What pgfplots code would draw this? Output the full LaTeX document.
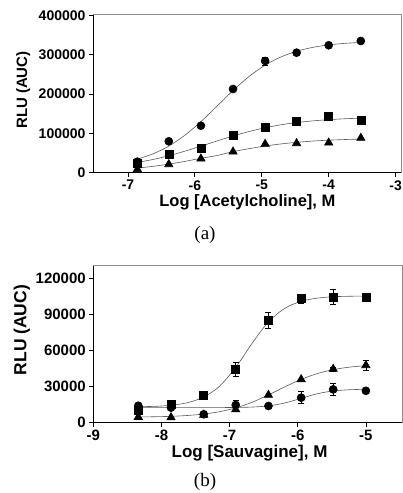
\documentclass[border=0pt]{standalone}
\usepackage{fontspec}
\setmainfont{Liberation Serif}
\setsansfont{Liberation Sans}
\usepackage{pgfplots}
\pgfplotsset{compat=1.18}
\pgfplotsset{
  dr/.style={
    scale only axis, clip=false,
    axis lines=left, axis line style={-, line width=0.8pt, black},
    tick align=outside, major tick length=4pt,
    tick style={black, line width=0.8pt},
    scaled y ticks=false,
    every tick label/.append style={font=\sffamily\bfseries\fontsize{14}{15}\selectfont},
    label style={font=\sffamily\bfseries\fontsize{16.5}{17}\selectfont},
  },
  fit/.style={black!65, line width=0.6pt, smooth, no marks},
  pts/.style={only marks, black, line width=0.6pt,
    error bars/y dir=both, error bars/y explicit,
    error bars/error bar style={black, line width=0.6pt},
    error bars/error mark options={rotate=90, mark size=3pt, black, line width=0.6pt}},
}
\begin{document}
\begin{tikzpicture}
\path[use as bounding box] (0,0) rectangle (403pt,-493pt);
% ---------------- (a) ----------------
\begin{axis}[dr,
  at={(93pt,-172.7pt)}, anchor=south west,
  width=308.7pt, height=158pt,
  xmin=-7.523, xmax=-2.909, ymin=0, ymax=401500,
  xtick={-7,-6,-5,-4,-3}, xticklabels={-7,-6,-5,-4,-3},
  ytick={0,100000,200000,300000,400000},
  yticklabels={0,100000,200000,300000,400000},
  xlabel={Log [Acetylcholine], M}, ylabel={RLU (AUC)},
  x label style={at={(axis description cs:0.5,-0.19)}, anchor=center},
  y label style={at={(axis description cs:-0.226,0.523)}, anchor=center, font=\sffamily\bfseries\fontsize{15}{16}\selectfont},
]
\addplot[fit] coordinates {(-6.86,34500) (-6.63,47700) (-6.40,66700) (-6.16,93800) (-5.92,128200) (-5.68,167500) (-5.43,208900) (-5.19,244600) (-4.95,273300) (-4.72,293700) (-4.48,308600) (-4.24,318400) (-4.00,324700) (-3.76,328700) (-3.52,331100)};
\addplot[fit] coordinates {(-6.86,26000) (-6.63,33500) (-6.40,42700) (-6.16,54200) (-5.92,66900) (-5.68,80100) (-5.43,93300) (-5.19,104700) (-4.95,114200) (-4.72,121600) (-4.48,127400) (-4.24,131700) (-4.00,134800) (-3.76,137100) (-3.52,138600)};
\addplot[fit] coordinates {(-6.86,11700) (-6.63,16100) (-6.40,21500) (-6.16,28400) (-5.92,36300) (-5.68,43300) (-5.43,53400) (-5.19,61100) (-4.95,67800) (-4.72,73000) (-4.48,77200) (-4.24,80400) (-4.00,82700) (-3.76,84300) (-3.52,85500)};
\addplot[pts, mark=triangle*, mark size=4.8pt] coordinates {(-6.86,8600) (-6.39,21300) (-5.91,35600) (-5.43,53400) (-4.95,72900) (-4.48,74700) (-4.0,76200) (-3.52,88200)};
\addplot[pts, mark=square*, mark size=4pt] coordinates {(-6.86,24000) (-6.39,47500) (-5.91,62800) (-5.43,95800) (-4.95,115400) (-4.48,129600) (-4.0,142300) +- (0,3000) (-3.52,134000)};
\addplot[pts, mark=*, mark size=4pt] coordinates {(-6.86,28000) (-6.39,79800) (-5.91,119400) (-5.43,212700) +- (0,7000) (-4.95,283900) +- (0,10000) (-4.48,305000) +- (0,4000) (-4.0,323800) +- (0,3000) (-3.52,334700)};
\draw[black!45, line width=0.8pt] (rel axis cs:0,1) -- (rel axis cs:1,1) -- (rel axis cs:1,0);
\end{axis}
\node[font=\fontsize{19}{20}\selectfont] at (205pt,-235pt) {(a)};
% ---------------- (b) ----------------
\begin{axis}[dr,
  at={(93.3pt,-422.7pt)}, anchor=south west,
  width=309.4pt, height=157pt,
  xmin=-9, xmax=-4.46, ymin=0, ymax=130500,
  xtick={-9,-8,-7,-6,-5}, xticklabels={-9,-8,-7,-6,-5},
  ytick={0,30000,60000,90000,120000},
  yticklabels={0,30000,60000,90000,120000},
  every tick label/.append style={font=\sffamily\bfseries\fontsize{15}{16}\selectfont},
  xlabel={Log [Sauvagine], M}, ylabel={RLU (AUC)},
  x label style={at={(axis description cs:0.505,-0.191)}, anchor=center, font=\sffamily\bfseries\fontsize{17}{18}\selectfont},
  y label style={at={(axis description cs:-0.231,0.59)}, anchor=center, font=\sffamily\bfseries\fontsize{17.5}{18}\selectfont},
]
\addplot[fit] coordinates {(-8.34,13300) (-8.10,13600) (-7.86,14500) (-7.62,16600) (-7.38,21300) (-7.15,30200) (-6.91,46000) (-6.67,66000) (-6.43,83800) (-6.19,95100) (-5.95,100900) (-5.72,103500) (-5.48,104700) (-5.24,105100) (-5.00,105300)};
\addplot[fit] coordinates {(-8.34,4750) (-8.10,4960) (-7.86,5300) (-7.62,6000) (-7.38,7200) (-7.15,9130) (-6.91,12300) (-6.67,17000) (-6.43,23100) (-6.19,29800) (-5.95,36000) (-5.72,40700) (-5.48,44100) (-5.24,46200) (-5.00,47400)};
\addplot[fit] coordinates {(-8.34,12500) (-8.10,12500) (-7.86,12500) (-7.62,12500) (-7.38,12520) (-7.15,12560) (-6.91,12700) (-6.67,13000) (-6.43,14000) (-6.19,16400) (-5.95,20250) (-5.72,24000) (-5.48,26400) (-5.24,27400) (-5.00,27800)};
\addplot[pts, mark=square*, mark size=4pt] coordinates {(-8.34,10500) (-7.86,15500) +- (0,2500) (-7.38,22400) (-6.91,44300) +- (0,6000) (-6.43,85100) +- (0,7000) (-5.95,103100) +- (0,4000) (-5.48,104500) +- (0,6000) (-5.0,104500) +- (0,1500)};
\addplot[pts, mark=triangle*, mark size=4.8pt] coordinates {(-8.34,4700) (-7.86,4400) (-7.38,6500) (-6.91,11000) (-6.43,23000) (-5.95,36000) (-5.48,44600) +- (0,1500) (-5.0,47700) +- (0,4500)};
\addplot[pts, mark=*, mark size=4pt] coordinates {(-8.34,14100) (-7.86,12500) (-7.38,7000) +- (0,2500) (-6.91,14700) +- (0,4000) (-6.43,13900) +- (0,1500) (-5.95,20800) +- (0,5000) (-5.48,27700) +- (0,5000) (-5.0,26500)};
\draw[black!45, line width=0.8pt] (rel axis cs:0,1) -- (rel axis cs:1,1) -- (rel axis cs:1,0);
\end{axis}
\node[font=\fontsize{19}{20}\selectfont] at (205pt,-482pt) {(b)};
\end{tikzpicture}
\end{document}
